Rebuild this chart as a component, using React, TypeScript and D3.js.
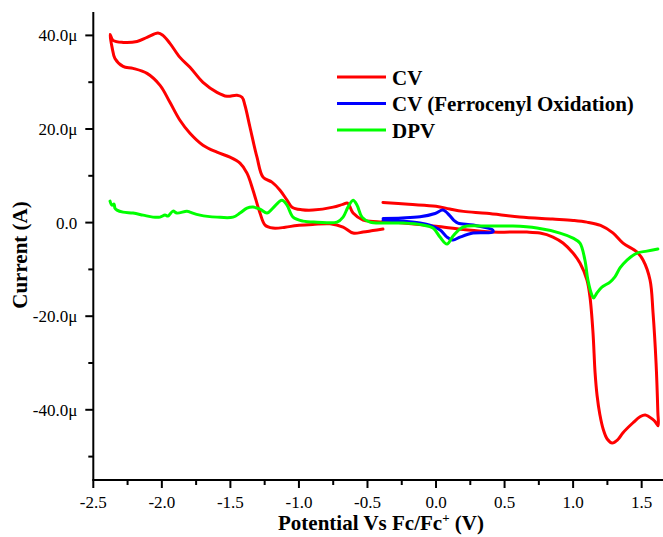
import React from "react";
import * as d3 from "d3";

// ---- Data (potential in V vs Fc/Fc+, current in µA) ----
const cvLeftPotential = [
  -0.387, -0.46, -0.532, -0.605, -0.678, -0.773, -0.9, -1.014, -1.1, -1.19, -1.247, -1.284, -1.335,
  -1.379, -1.43, -1.503, -1.598, -1.7, -1.795, -1.868, -1.941, -2.013, -2.108, -2.21, -2.283,
  -2.342, -2.363, -2.378, -2.356, -2.283, -2.181, -2.108, -2.028, -1.992, -1.941, -1.868,
  -1.795, -1.7, -1.598, -1.525, -1.452, -1.415, -1.394, -1.357, -1.306, -1.262, -1.197,
  -1.138, -1.087, -1.05, -0.98, -0.897, -0.75, -0.68, -0.645, -0.605, -0.532, -0.46, -0.387,
];
const cvLeftCurrent = [
  -1.39, -1.7, -2.03, -2.24, -0.96, -0.25, -0.4, -0.6, -1.0, -1.17, -0.53, 2.03, 6.93,
  10.56, 12.69, 13.97, 15.04, 16.53, 19.09, 21.87, 25.71, 29.33, 31.89, 32.96, 33.39,
  35.09, 37.44, 40.2, 38.93, 38.5, 38.7, 39.57, 40.5, 40.0, 38.3, 35.3,
  33.2, 29.97, 27.84, 26.99, 27.2, 26.77, 25.07, 20.37, 13.97, 9.71, 8.64,
  6.93, 4.8, 3.3, 2.75, 2.67, 3.3, 3.9, 4.16, 2.03, 0.53, 0.25, 0.1,
];

const cvRightPotential = [
  -0.387, -0.2, 0.0, 0.1, 0.2, 0.37, 0.61, 0.85, 1.0, 1.1, 1.2, 1.29, 1.364, 1.466, 1.51,
  1.561, 1.583, 1.605, 1.618, 1.62, 1.6, 1.583, 1.526, 1.488, 1.437, 1.364, 1.325, 1.285, 1.25,
  1.22, 1.195, 1.175, 1.16, 1.145, 1.123, 1.101, 1.05, 0.999, 0.926, 0.853, 0.758, 0.663, 0.539, 0.408,
  0.2, 0.0, -0.2, -0.387,
];
const cvRightCurrent = [
  4.3, 3.9, 3.5, 2.9, 2.4, 2.0, 1.2, 0.75, 0.45, 0.1, -0.6, -2.2, -4.37, -6.29, -8.0,
  -12.27, -19.3, -30.0, -40.5, -43.4, -42.6, -42.1, -41.1, -41.5, -42.77, -44.9, -46.4, -47.1, -46.3,
  -44.2, -41.0, -37.0, -32.0, -23.5, -15.89, -12.27, -8.64, -6.51, -4.37, -3.09, -2.24, -2.03, -2.03, -2.03,
  -1.5, -0.8, -0.2, 0.3,
];

const fcPotential = [
  -0.386, -0.25, -0.117, -0.007, 0.05, 0.1, 0.13, 0.16, 0.27, 0.415,
  0.415, 0.27, 0.175, 0.124, 0.08, 0.03, -0.045, -0.117, -0.26, -0.386,
];
const fcCurrent = [
  0.9, 1.0, 1.25, 1.95, 2.67, 1.5, 0.5, -0.1, -0.53, -1.6,
  -2.0, -2.24, -3.1, -3.73, -3.1, -1.6, -0.53, -0.1, 0.32, 0.53,
];

const dpvPotential = [
  -2.378, -2.364, -2.349, -2.342, -2.327, -2.283, -2.21, -2.137, -2.065, -2.013, -1.977,
  -1.955, -1.919, -1.89, -1.817, -1.795, -1.722, -1.598, -1.481, -1.43, -1.379, -1.335,
  -1.284, -1.233, -1.19, -1.124, -1.087, -1.043, -0.97, -0.868, -0.722, -0.678, -0.642,
  -0.605, -0.576, -0.54, -0.482, -0.387, -0.241, -0.095, -0.022, 0.029, 0.08, 0.124,
  0.197, 0.371, 0.561, 0.736, 0.904, 0.999, 1.05, 1.086, 1.108, 1.137, 1.15, 1.174,
  1.21, 1.269, 1.305, 1.342, 1.393, 1.466, 1.538, 1.618,
];
const dpvCurrent = [
  4.59, 3.73, 3.95, 3.09, 2.67, 2.24, 2.03, 1.6, 1.17, 1.17, 1.6,
  1.39, 2.45, 2.03, 2.45, 2.24, 1.6, 1.17, 1.17, 2.03, 3.09, 3.31,
  2.88, 2.03, 3.09, 4.8, 3.73, 1.17, 0.32, 0.1, 0.1, 1.17, 3.31,
  4.8, 3.73, 1.17, 0.1, -0.1, -0.1, -0.53, -1.17, -3.09, -4.59, -2.88,
  -0.96, -0.75, -0.75, -1.17, -2.24, -3.31, -4.37, -8.0, -12.3, -15.5, -16.1, -15.0,
  -13.8, -12.7, -11.6, -9.7, -8.0, -6.5, -6.1, -5.65,
];

const xMajorTicks = [-2.5, -2.0, -1.5, -1.0, -0.5, 0.0, 0.5, 1.0, 1.5];
const xMinorTicks = [-2.25, -1.75, -1.25, -0.75, -0.25, 0.25, 0.75, 1.25];
const yMajorTicks = [-40, -20, 0, 20, 40];
const yTickLabels = ["-40.0\u03bc", "-20.0\u03bc", "0.0", "20.0\u03bc", "40.0\u03bc"];
const yMinorTicks = [-50, -30, -10, 10, 30];

const legendLabels = ["CV", "CV (Ferrocenyl Oxidation)", "DPV"];
const legendColors = ["#ff0000", "#0000ff", "#00ff00"];

const FONT = "'Liberation Serif', 'Times New Roman', Times, serif";

export default function App() {
  const W = 663;
  const H = 537;
  const x = d3.scaleLinear().domain([-2.5, 1.66]).range([93.3, 663.6]);
  const y = d3.scaleLinear().domain([-55, 45]).range([480, 12]);

  const line = d3
    .line<[number, number]>()
    .x((d) => x(d[0]))
    .y((d) => y(d[1]))
    .curve(d3.curveCatmullRom.alpha(0.5));

  const zip = (a: number[], b: number[]) => a.map((v, i) => [v, b[i]] as [number, number]);

  const series = [
    { d: zip(cvLeftPotential, cvLeftCurrent), c: legendColors[0] },
    { d: zip(cvRightPotential, cvRightCurrent), c: legendColors[0] },
    { d: zip(fcPotential, fcCurrent), c: legendColors[1] },
    { d: zip(dpvPotential, dpvCurrent), c: legendColors[2] },
  ];

  const x0 = x.range()[0];
  const yBase = y(-55);

  return (
    <svg
      width={W}
      height={H}
      style={{ position: "absolute", left: 0, top: 0, background: "#fff" }}
      fontFamily={FONT}
    >
      {series.map((s, i) => (
        <path key={i} d={line(s.d) || ""} fill="none" stroke={s.c} strokeWidth={3} strokeLinejoin="round" strokeLinecap="round" />
      ))}

      {/* Y axis */}
      <line x1={x0} x2={x0} y1={y(45)} y2={yBase} stroke="#000" strokeWidth={2} />
      {yMajorTicks.map((t, i) => (
        <g key={"ym" + t}>
          <line x1={x0 - 8} x2={x0} y1={y(t)} y2={y(t)} stroke="#000" strokeWidth={2} />
          <text x={x0 - 16} y={y(t)} dy="0.35em" textAnchor="end" fontSize={17} fill="#000" fontFamily={FONT}>
            {yTickLabels[i]}
          </text>
        </g>
      ))}
      {yMinorTicks.map((t) => (
        <line key={"yn" + t} x1={x0 - 5} x2={x0} y1={y(t)} y2={y(t)} stroke="#000" strokeWidth={2} />
      ))}

      {/* X axis */}
      <line x1={x0 - 1} x2={W} y1={yBase} y2={yBase} stroke="#000" strokeWidth={2} />
      {xMajorTicks.map((t) => (
        <g key={"xm" + t}>
          <line x1={x(t)} x2={x(t)} y1={yBase} y2={yBase + 8} stroke="#000" strokeWidth={2} />
          <text x={x(t)} y={yBase + 28} textAnchor="middle" fontSize={17} fill="#000" fontFamily={FONT}>
            {t.toFixed(1)}
          </text>
        </g>
      ))}
      {xMinorTicks.map((t) => (
        <line key={"xn" + t} x1={x(t)} x2={x(t)} y1={yBase} y2={yBase + 5} stroke="#000" strokeWidth={2} />
      ))}

      {/* Axis titles */}
      <text x={381} y={530} textAnchor="middle" fontSize={21} fontWeight="bold" fill="#000">
        Potential Vs Fc/Fc
        <tspan fontSize={13} dy={-8}>+</tspan>
        <tspan dy={8}> (V)</tspan>
      </text>
      <text
        transform={`translate(27,255) rotate(-90)`}
        textAnchor="middle"
        fontSize={21}
        fontWeight="bold"
        fill="#000"
      >
        Current (A)
      </text>

      {/* Legend */}
      {legendLabels.map((l, i) => {
        const ly = 77 + i * 26.5;
        return (
          <g key={l}>
            <line x1={337} x2={386} y1={ly} y2={ly} stroke={legendColors[i]} strokeWidth={3} />
            <text x={392} y={ly + 7.5} fontSize={21} fontWeight="bold" fill="#000">
              {l}
            </text>
          </g>
        );
      })}
    </svg>
  );
}
